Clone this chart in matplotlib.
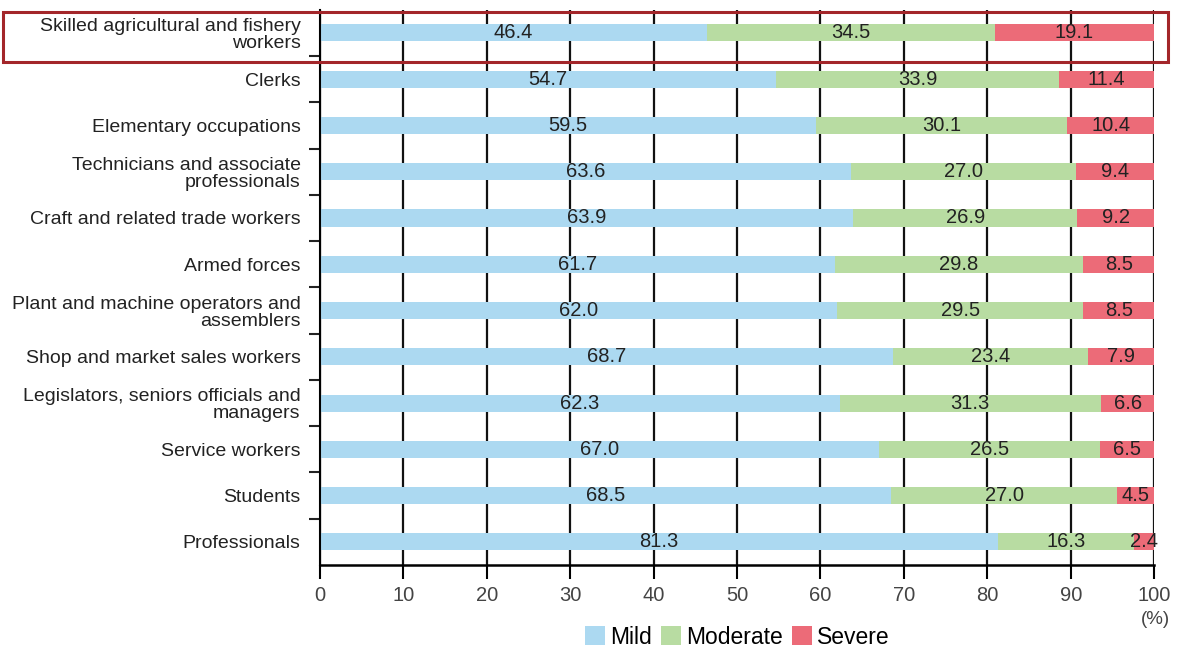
import matplotlib.pyplot as plt
from matplotlib.patches import Rectangle
import numpy as np

occupations = [
    "Skilled agricultural and fishery\nworkers",
    "Clerks",
    "Elementary occupations",
    "Technicians and associate\nprofessionals",
    "Craft and related trade workers",
    "Armed forces",
    "Plant and machine operators and\nassemblers",
    "Shop and market sales workers",
    "Legislators, seniors officials and\nmanagers",
    "Service workers",
    "Students",
    "Professionals",
]
mild = [46.4, 54.7, 59.5, 63.6, 63.9, 61.7, 62.0, 68.7, 62.3, 67.0, 68.5, 81.3]
moderate = [34.5, 33.9, 30.1, 27.0, 26.9, 29.8, 29.5, 23.4, 31.3, 26.5, 27.0, 16.3]
severe = [19.1, 11.4, 10.4, 9.4, 9.2, 8.5, 8.5, 7.9, 6.6, 6.5, 4.5, 2.4]

series = [("Mild", mild, "#acd9f1"), ("Moderate", moderate, "#b8dca2"), ("Severe", severe, "#ec6b78")]

plt.rcParams['font.family'] = ['Liberation Sans', 'DejaVu Sans']
txt = "#222222"

fig = plt.figure(figsize=(11.85, 6.52), dpi=100)
ax = fig.add_axes([0.270, 0.1334, 0.704, 0.8516])

y = np.arange(len(occupations))
left = np.zeros(len(occupations))
for name, vals, col in series:
    vals = np.array(vals)
    ax.barh(y, vals, left=left, height=0.37, color=col, label=name, zorder=2)
    for yi, l, v in zip(y, left, vals):
        ax.text(l + v / 2, yi, f"{v:.1f}", ha="center", va="center",
                fontsize=14.5, color=txt, zorder=3)
    left += vals

ax.set_xlim(0, 100)
ax.set_ylim(len(occupations) - 0.5, -0.5)
ax.set_xticks(np.arange(0, 101, 10))
ax.set_yticks(y)
ax.set_yticklabels(occupations, fontsize=14, color=txt, linespacing=1.0)
ax.set_yticks(np.arange(0.5, len(occupations) - 1, 1), minor=True)
ax.tick_params(axis="y", which="major", length=0, pad=14)
ax.tick_params(axis="y", which="minor", length=8, width=1.5, color="#222222", direction="out")
ax.tick_params(axis="x", length=10, width=1.5, labelsize=14.5, pad=5)
for lab in ax.get_xticklabels():
    lab.set_color("#444444")

ax.grid(axis="x", color="#111111", lw=1.6, zorder=0)
for s in ["top", "right"]:
    ax.spines[s].set_visible(False)
ax.spines["left"].set_linewidth(1.5)
ax.spines["bottom"].set_linewidth(1.8)

fig.text(1155 / 1185, 1 - 620 / 652, "(%)", ha="center", va="center", fontsize=13.5, color="#444444")

ax.legend(loc="center", bbox_to_anchor=(0.5, -0.13), ncol=3, frameon=False,
          fontsize=16.5, handlelength=0.9, handleheight=0.9, handletextpad=0.2,
          columnspacing=0.4)

# highlight frame around the top row
fig.patches.append(Rectangle((3 / 1185, 1 - 62 / 652), 1165 / 1185, 50 / 652,
                             transform=fig.transFigure, fill=False,
                             edgecolor="#a3262a", lw=2.2))

fig.savefig("out.png", dpi=100)
